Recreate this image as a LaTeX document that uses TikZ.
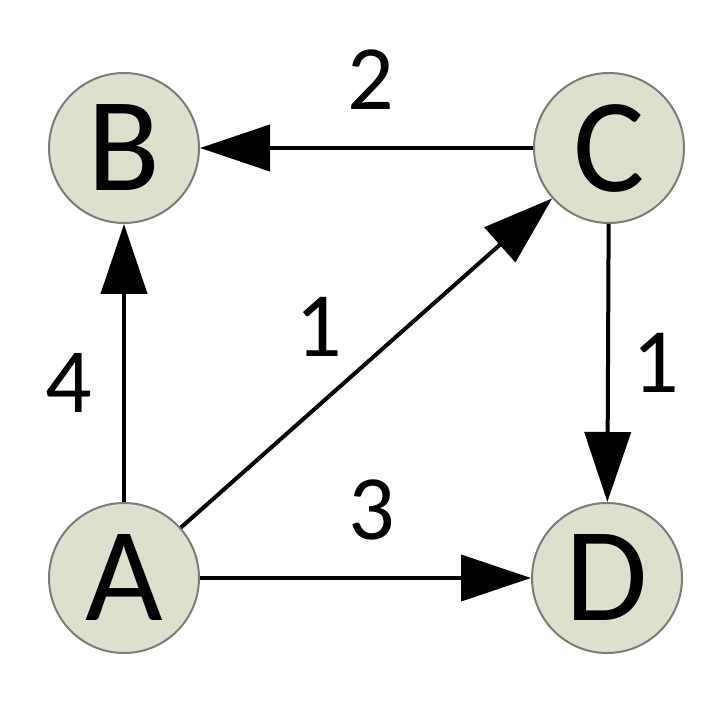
\documentclass[tikz,border=0pt]{standalone}
\usepackage{fontspec}
\setmainfont{Carlito}
\usetikzlibrary{arrows.meta}
\definecolor{nodefill}{RGB}{221,223,207}
\definecolor{nodeline}{RGB}{125,125,118}
\begin{document}
\begin{tikzpicture}[x=0.5pt,y=-0.5pt]
        \tikzset{vertex/.style={circle,draw=nodeline,line width=1pt,fill=nodefill,minimum size=75pt,inner sep=0pt,font=\fontsize{67}{67}\selectfont},
                 edge/.style={draw,line width=2pt,-{Triangle[length=35pt,width=23pt]}},
                 weight/.style={inner sep=0pt,font=\fontsize{46}{46}\selectfont}}
       \useasboundingbox (0,0) rectangle (720,726);
       \begin{scope}
         \node [vertex] (B) at (124,148) {B};
         \node [vertex] (C) at (609,148) {C};
         \node [vertex] (A) at (124,578) {A};
         \node [vertex] (D) at (607,578) {D};
         \path[edge] (C) -- node[weight,above=18pt,xshift=2pt] {2} (B);
         \path[edge] (A) -- node[weight,left=15pt,yshift=-10pt] {4} (B);
         \path[edge] (A) -- node[weight,xshift=-24pt,yshift=18pt] {1} (C);
         \path[edge] (C) -- node[weight,right=11pt] {1} (D);
         \path[edge] (A) -- node[weight,above=18pt,xshift=3pt] {3} (D);
        \end{scope}
      \end{tikzpicture}
\end{document}
